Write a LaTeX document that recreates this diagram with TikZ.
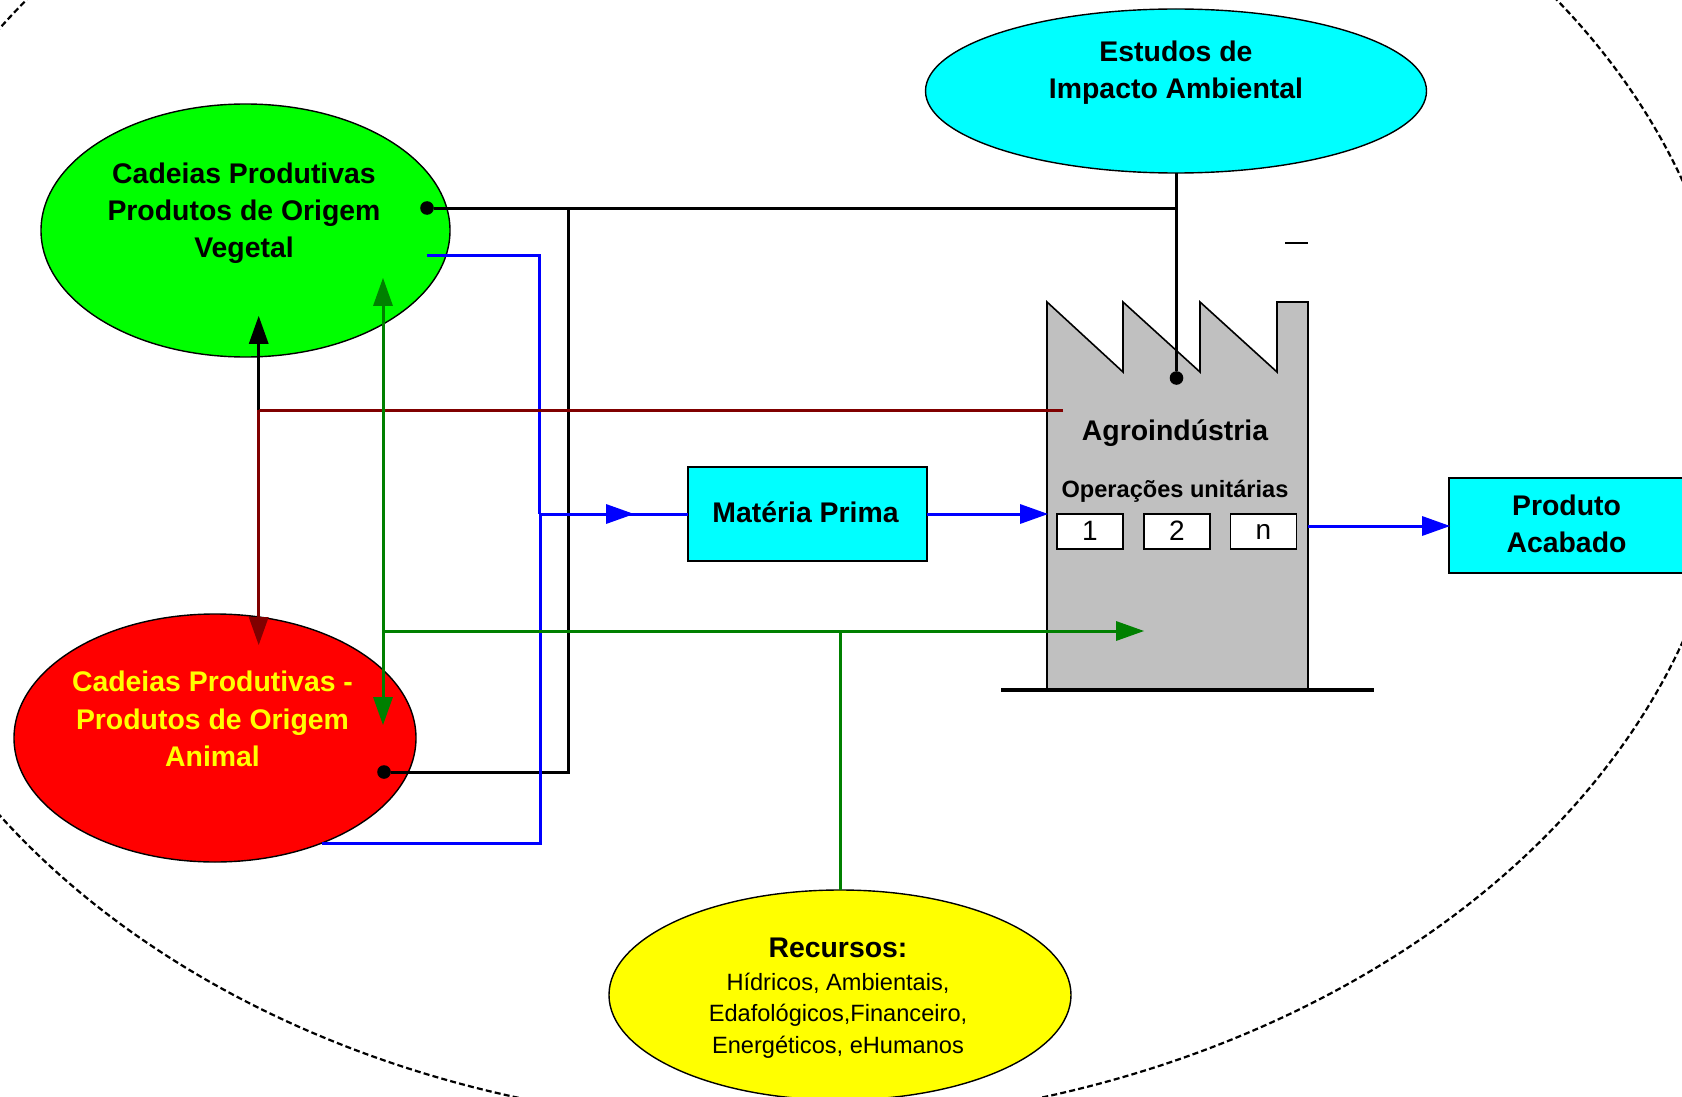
\documentclass[tikz,border=0pt]{standalone}
\usepackage{fontspec}
\setmainfont{Liberation Sans}
\usetikzlibrary{arrows.meta,shapes.geometric}
\definecolor{dkgreen}{RGB}{0,128,0}
\definecolor{dkred}{RGB}{128,0,0}
\definecolor{pblue}{RGB}{0,0,255}
\definecolor{fgray}{RGB}{192,192,192}
\definecolor{pcyan}{RGB}{0,255,255}
\definecolor{pgreen}{RGB}{0,255,0}
\definecolor{pred}{RGB}{255,0,0}
\definecolor{pyellow}{RGB}{255,255,0}
\newcommand{\bigfont}{\fontsize{14.2pt}{18.6pt}\selectfont\bfseries}
\newcommand{\midfont}{\fontsize{11.8pt}{15.6pt}\selectfont\bfseries}
\newcommand{\regfont}{\fontsize{11.8pt}{15.8pt}\selectfont}
\tikzset{
  x=0.5pt,y=-0.5pt,
  blob/.style={ellipse,draw=black,line width=0.7pt,inner sep=0pt,outer sep=0pt},
  boxcyan/.style={rectangle,draw=black,line width=0.7pt,fill=pcyan,inner sep=0pt,outer sep=0pt},
  numbox/.style={rectangle,draw=black,line width=0.7pt,fill=white,minimum width=33pt,minimum height=17.5pt,inner sep=0pt,outer sep=0pt,font=\fontsize{14pt}{16pt}\selectfont},
  title/.style={align=center,inner sep=0pt,font=\bigfont},
  conn/.style={line width=1.5pt},
  tip/.style={-{Triangle[length=14pt,width=9.5pt]},shorten >=-0.6pt},
  dot/.style={circle,fill=black,inner sep=0pt,minimum size=6.8pt},
}
\begin{document}
\begin{tikzpicture}
\useasboundingbox (0,0) rectangle (1682,1097);
\clip (0,0) rectangle (1682,1097);
\fill[white] (0,0) rectangle (1682,1097);
% outer dashed boundary
\node[ellipse,draw=black,dash pattern=on 3pt off 1.6pt,line width=1.1pt,minimum width=947pt,minimum height=708pt,inner sep=0pt,rotate=0.8] (limit) at (787,417) {};
% blobs
\node[blob,fill=pgreen,minimum width=204.5pt,minimum height=126.5pt] (veg) at (245.5,230.5) {};
\node[blob,fill=pred,minimum width=201pt,minimum height=124pt] (ani) at (215,738) {};
\node[blob,fill=pcyan,minimum width=250.5pt,minimum height=82pt] (imp) at (1176,91) {};
\node[blob,fill=pyellow,minimum width=231pt,minimum height=105pt] (rec) at (840,995) {};
% factory
\draw[fill=fgray,draw=black,line width=0.8pt,line join=miter]
  (1047,690) -- (1047,302) -- (1123,372) -- (1123,302) -- (1200,372) -- (1200,302) -- (1277,372) -- (1277,302) -- (1308,302) -- (1308,690) -- cycle;
\coordinate (fL) at (1047,514);
\coordinate (fR) at (1308,526);
\coordinate (baseL) at (1001,690);
\coordinate (baseR) at (1374,690);
\draw[line width=2pt] (baseL) -- (baseR);
\coordinate (dashL) at (1285,243);
\coordinate (dashR) at (1308,243);
\draw[line width=0.6pt] (dashL) -- (dashR);
% rectangles
\node[boxcyan,minimum width=119.5pt,minimum height=47pt] (mp) at (807.5,514) {};
\node[boxcyan,minimum width=121pt,minimum height=47.5pt] (pa) at (1570,525.5) {};
\node[title] (tmp) at (805.5,512.5) {Matéria Prima};
\node[numbox] (n1) at (1090,531.5) {\raisebox{1pt}{1}};
\node[numbox] (n2) at (1177,531.5) {\raisebox{1pt}{2}};
\node[numbox] (n3) at (1263.5,531.5) {n};
% texts
\node[title] (tveg) at (244,213.5) {Cadeias Produtivas\\Produtos de Origem\\Vegetal};
\node[title,text=pyellow] (tani) at (212.5,719) {Cadeias Produtivas -\\Produtos de Origem\\Animal};
\node[title] (timp) at (1176,73) {Estudos de\\Impacto Ambiental};
\node[title] (tpa) at (1566.5,524) {Produto\\Acabado};
\node[title] (tagro) at (1175,433) {Agroindústria};
\node[inner sep=0pt,font=\midfont] (top) at (1175,491.5) {Operações unitárias};
\node[title] (trec) at (838,948) {Recursos:};
\node[align=center,inner sep=0pt,font=\regfont] (trec2) at (838,1015.5) {Hídricos, Ambientais,\\Edafológicos,Financeiro,\\Energéticos, eHumanos};
% anchors of connectors
\node[dot] (dveg) at (427,208) {};
\node[dot] (dani) at (384,772) {};
\node[dot] (dfac) at (1176.5,378) {};
\coordinate (jblackH) at (568,208);
\coordinate (jimpH) at (1176.5,208);
\coordinate (jblackV) at (568,772);
\coordinate (blueA) at (427,255);
\coordinate (blueB) at (539,255);
\coordinate (blueC) at (539,514);
\coordinate (blueM) at (633,514);
\coordinate (blueD) at (322,843);
\coordinate (blueE) at (540,843);
\coordinate (blueF) at (540,514);
\coordinate (redE) at (1063,410);
\coordinate (redJ) at (258.7,410);
\coordinate (redTip) at (258.7,644);
\coordinate (blkTip) at (258.7,317);
\coordinate (grTop) at (383,279);
\coordinate (grBot) at (383,724);
\coordinate (grJ) at (383,631);
\coordinate (grTip) at (1143,631);
\coordinate (grRec) at (840,631);
% black
\draw[conn,black] (dveg) -- (jimpH);
\draw[conn,black] (imp.south -| jimpH) -- (dfac);
\draw[conn,black] (jblackH) -- (jblackV) -- (dani);
\draw[conn,black,tip] (redJ) -- (blkTip);
% blue
\draw[conn,pblue] (blueA) -- (blueB) -- (blueC);
\draw[conn,pblue] (blueD) -- (blueE) -- (blueF);
\draw[conn,pblue] (blueC) -- (mp.west);
\draw[conn,pblue,tip] (blueC) -- (blueM);
\draw[conn,pblue,tip] (mp.east) -- (fL);
\draw[conn,pblue,tip] (fR) -- (pa.west |- fR);
% red
\draw[conn,dkred] (redE) -- (redJ);
\draw[conn,dkred,tip] (redJ) -- (redTip);
% green
\draw[conn,dkgreen,tip] (grJ) -- (grTop);
\draw[conn,dkgreen,tip] (grJ) -- (grBot);
\draw[conn,dkgreen,tip] (grJ) -- (grTip);
\draw[conn,dkgreen] (grRec) -- (rec.north);
\end{tikzpicture}
\end{document}
